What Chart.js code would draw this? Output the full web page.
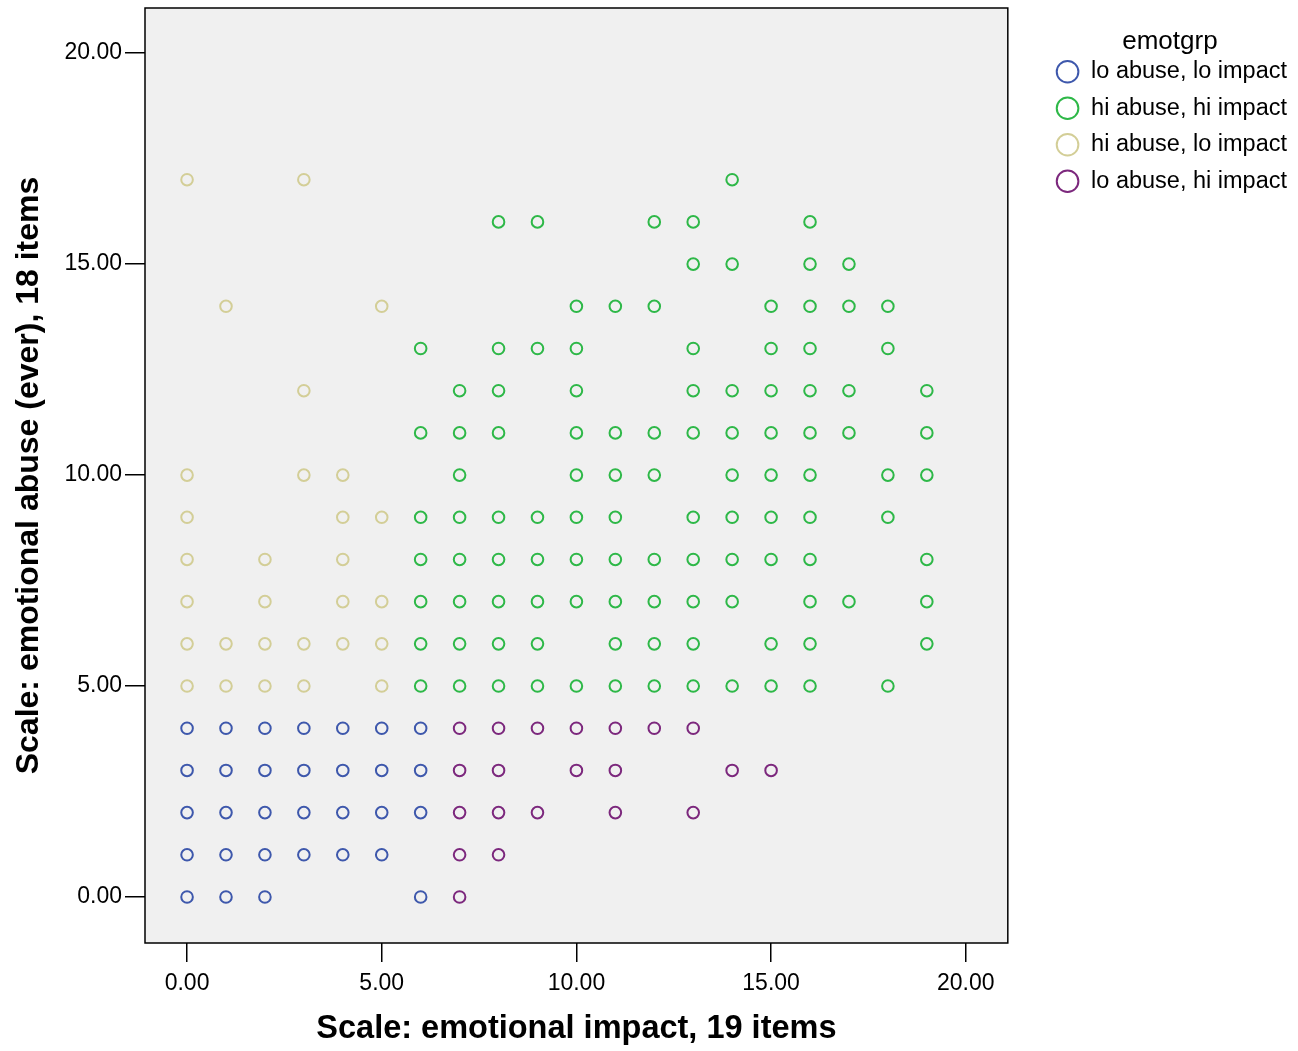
<!DOCTYPE html>
<html>
<head>
<meta charset="utf-8">
<script src="https://cdn.jsdelivr.net/npm/chart.js@4.4.1/dist/chart.umd.min.js"></script>
<style>
  html, body { margin: 0; padding: 0; background: #ffffff; }
  canvas { display: block; }
</style>
</head>
<body>
<canvas id="c" width="1298" height="1051"></canvas>
<script>
// ---- data (x = emotional impact, y = emotional abuse) ----
const groupLabels = ['lo abuse, lo impact', 'hi abuse, hi impact', 'hi abuse, lo impact', 'lo abuse, hi impact'];
const groupColors = ['#3E58AC', '#2EB848', '#D3CE97', '#7C287D'];

const loLoPoints = [
  [0,4],[1,4],[2,4],[3,4],[4,4],[5,4],[6,4],
  [0,3],[1,3],[2,3],[3,3],[4,3],[5,3],[6,3],
  [0,2],[1,2],[2,2],[3,2],[4,2],[5,2],[6,2],
  [0,1],[1,1],[2,1],[3,1],[4,1],[5,1],
  [0,0],[1,0],[2,0],[6,0]
];
const hiHiPoints = [
  [14,17],
  [8,16],[9,16],[12,16],[13,16],[16,16],
  [13,15],[14,15],[16,15],[17,15],
  [10,14],[11,14],[12,14],[15,14],[16,14],[17,14],[18,14],
  [6,13],[8,13],[9,13],[10,13],[13,13],[15,13],[16,13],[18,13],
  [7,12],[8,12],[10,12],[13,12],[14,12],[15,12],[16,12],[17,12],[19,12],
  [6,11],[7,11],[8,11],[10,11],[11,11],[12,11],[13,11],[14,11],[15,11],[16,11],[17,11],[19,11],
  [7,10],[10,10],[11,10],[12,10],[14,10],[15,10],[16,10],[18,10],[19,10],
  [6,9],[7,9],[8,9],[9,9],[10,9],[11,9],[13,9],[14,9],[15,9],[16,9],[18,9],
  [6,8],[7,8],[8,8],[9,8],[10,8],[11,8],[12,8],[13,8],[14,8],[15,8],[16,8],[19,8],
  [6,7],[7,7],[8,7],[9,7],[10,7],[11,7],[12,7],[13,7],[14,7],[16,7],[17,7],[19,7],
  [6,6],[7,6],[8,6],[9,6],[11,6],[12,6],[13,6],[15,6],[16,6],[19,6],
  [6,5],[7,5],[8,5],[9,5],[10,5],[11,5],[12,5],[13,5],[14,5],[15,5],[16,5],[18,5]
];
const hiLoPoints = [
  [0,17],[3,17],
  [1,14],[5,14],
  [3,12],
  [0,10],[3,10],[4,10],
  [0,9],[4,9],[5,9],
  [0,8],[2,8],[4,8],
  [0,7],[2,7],[4,7],[5,7],
  [0,6],[1,6],[2,6],[3,6],[4,6],[5,6],
  [0,5],[1,5],[2,5],[3,5],[5,5]
];
const loHiPoints = [
  [7,4],[8,4],[9,4],[10,4],[11,4],[12,4],[13,4],
  [7,3],[8,3],[10,3],[11,3],[14,3],[15,3],
  [7,2],[8,2],[9,2],[11,2],[13,2],
  [7,1],[8,1],
  [7,0]
];
const xTickValues = [0, 5, 10, 15, 20];
const yTickValues = [0, 5, 10, 15, 20];
const xTitle = 'Scale: emotional impact, 19 items';
const yTitle = 'Scale: emotional abuse (ever), 18 items';
const legendTitle = 'emotgrp';

// ---- chart ----
const FONT = '"Liberation Sans", Arial, Helvetica, sans-serif';
const groups = [loLoPoints, hiHiPoints, hiLoPoints, loHiPoints];

const datasets = groups.map((pts, i) => ({
  label: groupLabels[i],
  data: pts.map(p => ({ x: p[0], y: p[1] })),
  borderColor: groupColors[i],
  backgroundColor: 'rgba(0,0,0,0)',
  pointStyle: 'circle',
  pointRadius: 5.8,
  pointBorderWidth: 2,
  pointHoverRadius: 5.8,
  showLine: false
}));

const framePlugin = {
  id: 'frame',
  beforeDraw(chart) {
    const a = chart.chartArea, ctx = chart.ctx;
    ctx.save();
    ctx.fillStyle = '#F0F0F0';
    ctx.fillRect(a.left, a.top, a.right - a.left, a.bottom - a.top);
    ctx.restore();
  },
  beforeDatasetsDraw(chart) {
    const a = chart.chartArea, ctx = chart.ctx;
    ctx.save();
    ctx.strokeStyle = '#000000';
    ctx.lineWidth = 1.5;
    ctx.strokeRect(a.left, a.top, a.right - a.left, a.bottom - a.top);
    ctx.restore();
  }
};

new Chart(document.getElementById('c'), {
  type: 'scatter',
  data: { datasets },
  plugins: [framePlugin],
  options: {
    responsive: false,
    animation: false,
    devicePixelRatio: 1,
    layout: { padding: { top: 8, right: 1, bottom: 0, left: 0 } },
    plugins: {
      tooltip: { enabled: false },
      legend: {
        display: true,
        position: 'right',
        align: 'start',
        maxWidth: 320,
        title: {
          display: true,
          text: legendTitle,
          color: '#000',
          font: { family: FONT, size: 26, lineHeight: 1.0 },
          padding: { top: 21, bottom: -8 }
        },
        labels: {
          usePointStyle: true,
          boxWidth: 23.5,
          boxHeight: 15.3,
          padding: 13,
          color: '#000',
          font: { family: FONT, size: 23.5 },
          generateLabels(chart) {
            return chart.data.datasets.map((d, i) => ({
              text: d.label,
              fillStyle: 'rgba(0,0,0,0)',
              strokeStyle: d.borderColor,
              lineWidth: 2,
              pointStyle: 'circle',
              hidden: false,
              datasetIndex: i,
              fontColor: '#000'
            }));
          }
        }
      }
    },
    scales: {
      x: {
        type: 'linear',
        position: 'bottom',
        min: -1.08,
        max: 21.08,
        afterBuildTicks(s) { s.ticks = xTickValues.map(v => ({ value: v })); },
        afterFit(s) { s.height = 108; s.paddingLeft = 0; s.paddingRight = 0; },
        grid: { display: true, drawOnChartArea: false, drawTicks: true, tickLength: 19, color: '#000', lineWidth: 1.5 },
        border: { display: false },
        ticks: {
          color: '#000',
          padding: 8,
          maxRotation: 0,
          font: { family: FONT, size: 23 },
          callback: v => Number(v).toFixed(2)
        },
        title: {
          display: true,
          text: xTitle,
          color: '#000',
          font: { family: FONT, size: 32.5, weight: 'bold' },
          padding: { top: 0, bottom: 2 }
        }
      },
      y: {
        type: 'linear',
        position: 'left',
        min: -1.09,
        max: 21.07,
        afterBuildTicks(s) { s.ticks = yTickValues.map(v => ({ value: v })); },
        afterFit(s) { s.width = 145; s.paddingTop = 0; s.paddingBottom = 0; },
        grid: { display: true, drawOnChartArea: false, drawTicks: true, tickLength: 20, color: '#000', lineWidth: 1.5 },
        border: { display: false },
        ticks: {
          color: '#000',
          padding: 3,
          font: { family: FONT, size: 23 },
          callback: v => Number(v).toFixed(2)
        },
        title: {
          display: true,
          text: yTitle,
          color: '#000',
          font: { family: FONT, size: 32, weight: 'bold' },
          padding: { top: 10, bottom: 0 }
        }
      },
      yR: {
        type: 'linear',
        position: 'right',
        display: true,
        grid: { display: false },
        border: { display: false },
        ticks: { display: false },
        afterFit(s) { s.width = 35; s.paddingTop = 0; s.paddingBottom = 0; }
      }
    }
  }
});
</script>
</body>
</html>
